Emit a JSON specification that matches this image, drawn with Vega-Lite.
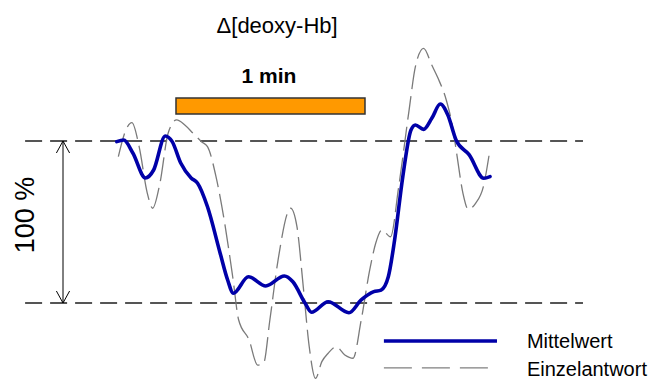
{
  "$schema": "https://vega.github.io/schema/vega-lite/v6.json",
  "width": 649,
  "height": 380,
  "autosize": "none",
  "padding": 0,
  "background": "white",
  "config": {"view": {"stroke": null}},
  "datasets": {
    "refs": [{"t": -47.9, "t2": 129.2, "v": 0}, {"t": -47.9, "t2": 129.2, "v": -100}],
    "arrow": [{"t": -35.87, "v": 0, "dir": "up"}, {"t": -35.87, "v": -100, "dir": "down"}],
    "bar": [{"t": 0, "t2": 60, "v": 26.5, "v2": 16.7}],
    "mittel": [
      {"t": -18.8, "v": -0.4}, {"t": -16.6, "v": 0.6}, {"t": -13.7, "v": -7.4}, {"t": -9.7, "v": -22.8},
      {"t": -7.1, "v": -17.9}, {"t": -3.4, "v": 3.1}, {"t": -1.2, "v": -0.4}, {"t": 1.5, "v": -13.6},
      {"t": 4.8, "v": -22.8}, {"t": 6.8, "v": -25.9}, {"t": 10.0, "v": -40.6}, {"t": 14.0, "v": -69.1},
      {"t": 16.4, "v": -85.8}, {"t": 18.2, "v": -94.0}, {"t": 23.0, "v": -83.8}, {"t": 28.5, "v": -89.5},
      {"t": 34.4, "v": -83.3}, {"t": 37.1, "v": -86.9}, {"t": 41.0, "v": -100.2}, {"t": 43.0, "v": -105.7},
      {"t": 48.3, "v": -99.2}, {"t": 54.9, "v": -106.0}, {"t": 58.8, "v": -98.1}, {"t": 62.8, "v": -93.0},
      {"t": 65.1, "v": -92.0}, {"t": 67.4, "v": -83.8}, {"t": 69.4, "v": -61.1}, {"t": 72.0, "v": -22.0},
      {"t": 74.6, "v": 6.8}, {"t": 76.0, "v": 9.9}, {"t": 78.6, "v": 7.2}, {"t": 81.2, "v": 14.0},
      {"t": 83.9, "v": 22.8}, {"t": 86.3, "v": 16.0}, {"t": 88.9, "v": 0.6}, {"t": 93.1, "v": -8.6},
      {"t": 97.7, "v": -23.0}, {"t": 99.7, "v": -22.0}
    ],
    "einzel": [
      {"t": -18.3, "v": -9.7}, {"t": -16.3, "v": 4.8}, {"t": -14.0, "v": 11.3}, {"t": -11.7, "v": -3.5},
      {"t": -9.1, "v": -32.3}, {"t": -7.4, "v": -41.5}, {"t": -5.1, "v": -26.1}, {"t": -2.5, "v": 4.8},
      {"t": 0.2, "v": 13.0}, {"t": 2.8, "v": 9.9}, {"t": 5.4, "v": 4.8}, {"t": 8.1, "v": -0.4},
      {"t": 10.0, "v": -3.5}, {"t": 12.7, "v": -22.0}, {"t": 15.3, "v": -48.8}, {"t": 18.0, "v": -83.8},
      {"t": 19.9, "v": -110.5}, {"t": 23.2, "v": -122.8}, {"t": 25.9, "v": -138.3}, {"t": 27.8, "v": -137.2},
      {"t": 29.8, "v": -110.5}, {"t": 32.4, "v": -73.5}, {"t": 36.4, "v": -41.5}, {"t": 38.4, "v": -52.9},
      {"t": 40.4, "v": -89.9}, {"t": 42.3, "v": -127.0}, {"t": 44.3, "v": -146.5}, {"t": 46.3, "v": -136.2},
      {"t": 48.3, "v": -131.0}, {"t": 50.9, "v": -127.0}, {"t": 53.6, "v": -132.1}, {"t": 56.2, "v": -134.1},
      {"t": 58.8, "v": -110.5}, {"t": 61.5, "v": -79.6}, {"t": 63.4, "v": -63.1}, {"t": 65.4, "v": -54.9},
      {"t": 68.1, "v": -59.1}, {"t": 70.7, "v": -28.2}, {"t": 74.0, "v": 19.1}, {"t": 76.0, "v": 45.9},
      {"t": 78.6, "v": 57.2}, {"t": 81.2, "v": 46.9}, {"t": 83.2, "v": 38.7}, {"t": 85.8, "v": 25.3},
      {"t": 87.8, "v": 8.8}, {"t": 89.1, "v": -7.6}, {"t": 91.1, "v": -32.3}, {"t": 92.8, "v": -42.2},
      {"t": 95.1, "v": -38.5}, {"t": 97.7, "v": -27.2}, {"t": 99.4, "v": -8.6}
    ],
    "legendLines": [
      {"series": "Mittelwert", "t": 66.0, "v": -123.5}, {"series": "Mittelwert", "t": 101.9, "v": -123.5},
      {"series": "Einzelantwort", "t": 66.0, "v": -140.1}, {"series": "Einzelantwort", "t": 101.9, "v": -140.1}
    ],
    "legendText": [
      {"label": "Mittelwert", "t": 111.4, "v": -127.8},
      {"label": "Einzelantwort", "t": 111.4, "v": -145.1}
    ],
    "title": [{"label": "Δ[deoxy-Hb]", "t": 32.1, "v": 66.7}],
    "bartext": [{"label": "1 min", "t": 29.5, "v": 35.8}],
    "pct": [{"label": "100 %", "t": -47.6, "v": -45.7}]
  },
  "encoding": {
    "x": {"field": "t", "type": "quantitative", "scale": {"domain": [-55.87, 150.16], "nice": false, "zero": false}, "axis": null},
    "y": {"field": "v", "type": "quantitative", "scale": {"domain": [-147.53, 87.04], "nice": false, "zero": false}, "axis": null}
  },
  "layer": [
    {
      "data": {"name": "refs"},
      "mark": {"type": "rule", "stroke": "#555555", "strokeWidth": 2, "strokeDash": [17, 8]},
      "encoding": {"x2": {"field": "t2"}}
    },
    {
      "data": {"name": "arrow"},
      "mark": {"type": "rule", "stroke": "#000000", "strokeWidth": 1},
      "encoding": {"y": {"aggregate": "max", "field": "v", "type": "quantitative"}, "y2": {"aggregate": "min", "field": "v"}, "x": {"aggregate": "mean", "field": "t", "type": "quantitative"}}
    },
    {
      "data": {"name": "arrow"},
      "mark": {"type": "point", "filled": false, "stroke": "#000000", "strokeWidth": 1, "size": 576, "opacity": 1},
      "encoding": {
        "shape": {"field": "dir", "type": "nominal", "scale": {"domain": ["up", "down"], "range": ["M -0.55 1 L 0 0 L 0.55 1", "M -0.55 -1 L 0 0 L 0.55 -1"]}, "legend": null}
      }
    },
    {
      "data": {"name": "bar"},
      "mark": {"type": "rect", "fill": "#ff9900", "stroke": "#333333", "strokeWidth": 1.5},
      "encoding": {"x2": {"field": "t2"}, "y2": {"field": "v2"}}
    },
    {
      "data": {"name": "einzel"},
      "mark": {"type": "line", "stroke": "#7a7a7a", "strokeWidth": 1.3, "strokeDash": [24, 7], "interpolate": "monotone"}
    },
    {
      "data": {"name": "mittel"},
      "mark": {"type": "line", "stroke": "#0000a8", "strokeWidth": 3.6, "interpolate": "monotone", "strokeCap": "round"}
    },
    {
      "data": {"name": "legendLines"},
      "mark": {"type": "line"},
      "encoding": {
        "detail": {"field": "series"},
        "stroke": {"field": "series", "type": "nominal", "scale": {"domain": ["Mittelwert", "Einzelantwort"], "range": ["#0000a8", "#808080"]}, "legend": null},
        "strokeWidth": {"field": "series", "type": "nominal", "scale": {"domain": ["Mittelwert", "Einzelantwort"], "range": [3.6, 1.3]}, "legend": null},
        "strokeDash": {"field": "series", "type": "nominal", "scale": {"domain": ["Mittelwert", "Einzelantwort"], "range": [[1, 0], [28, 10]]}, "legend": null}
      }
    },
    {
      "data": {"name": "legendText"},
      "mark": {"type": "text", "align": "left", "baseline": "alphabetic", "font": "Liberation Sans", "fontSize": 20, "fill": "#000000"},
      "encoding": {"text": {"field": "label"}}
    },
    {
      "data": {"name": "title"},
      "mark": {"type": "text", "align": "center", "baseline": "alphabetic", "font": "Liberation Sans", "fontSize": 22, "fill": "#000000"},
      "encoding": {"text": {"field": "label"}}
    },
    {
      "data": {"name": "bartext"},
      "mark": {"type": "text", "align": "center", "baseline": "alphabetic", "font": "Liberation Sans", "fontSize": 21, "fontWeight": "bold", "fill": "#000000"},
      "encoding": {"text": {"field": "label"}}
    },
    {
      "data": {"name": "pct"},
      "mark": {"type": "text", "align": "center", "baseline": "middle", "angle": 270, "font": "Liberation Sans", "fontSize": 27, "fill": "#000000"},
      "encoding": {"text": {"field": "label"}}
    }
  ]
}
